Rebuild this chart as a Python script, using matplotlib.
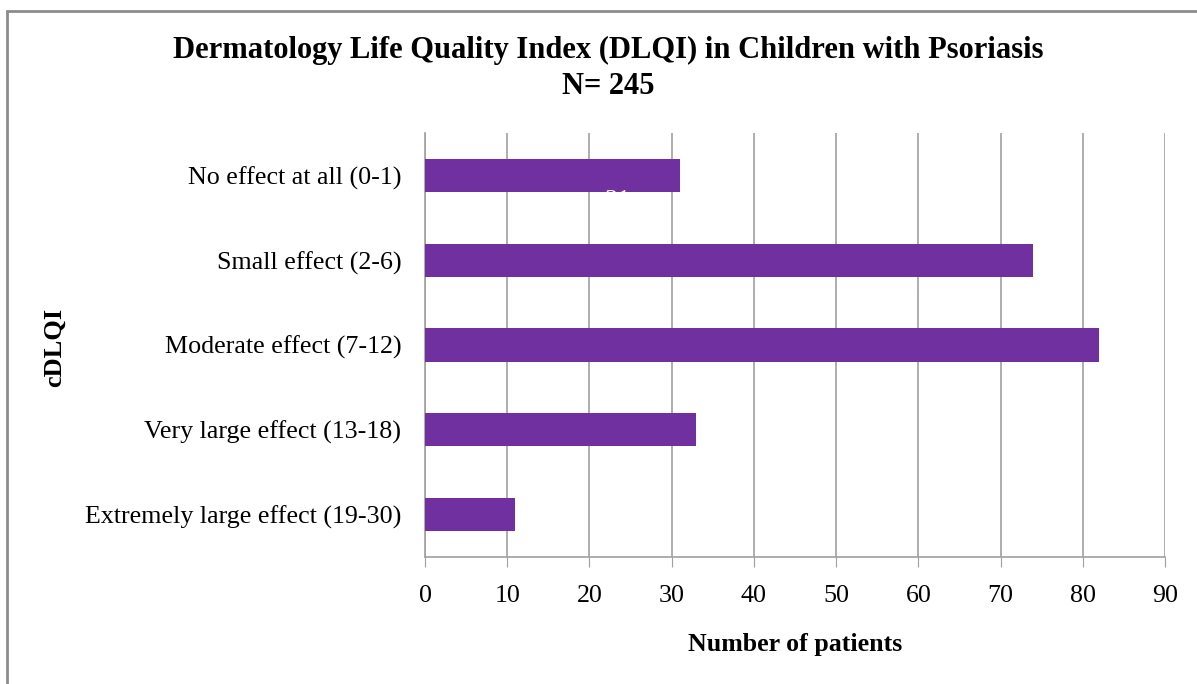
import matplotlib

matplotlib.use("Agg")
import matplotlib.pyplot as plt
from matplotlib.patches import Rectangle

# %% Data
categories = [
    "No effect at all (0-1)",
    "Small effect (2-6)",
    "Moderate effect (7-12)",
    "Very large effect (13-18)",
    "Extremely large effect (19-30)",
]
patients = [31, 74, 82, 33, 11]
x_ticks = [0, 10, 20, 30, 40, 50, 60, 70, 80, 90]

plt.rcParams["font.family"] = ["Liberation Serif", "DejaVu Serif"]

W, H = 1197, 684
fig = plt.figure(figsize=(W / 100, H / 100), dpi=100)
ax = fig.add_axes([425 / W, 1 - 557 / H, 740 / W, (557 - 133) / H])

ypos = list(range(len(categories)))
ax.barh(ypos, patients, height=0.39, color="#7030A0", zorder=3)

# stray, mostly hidden white data label on the first bar
ax.text(23.5, 0.17, str(patients[0]), color="white", fontsize=19,
        ha="center", va="top", zorder=4)

ax.set_xlim(0, 90)
ax.set_ylim(len(categories) - 0.5, -0.5)
ax.set_xticks(x_ticks)
ax.set_yticks(ypos)
ax.set_yticklabels(categories, fontsize=18.7)
ax.tick_params(axis="x", labelsize=18.7, length=7, color="#A0A0A0", pad=13)
ax.tick_params(axis="y", length=0, pad=17)
ax.grid(axis="x", color="#A0A0A0", linewidth=1.2, zorder=0)

for side in ["top", "right"]:
    ax.spines[side].set_visible(False)
for side in ["left", "bottom"]:
    ax.spines[side].set_color("#A0A0A0")
    ax.spines[side].set_linewidth(1.2)

fig.text(608 / W, 1 - 50 / H,
         "Dermatology Life Quality Index (DLQI) in Children with Psoriasis",
         ha="center", va="center", fontsize=22, fontweight="bold")
fig.text(608 / W, 1 - 87 / H, "N= 245", ha="center", va="center",
         fontsize=22, fontweight="bold")
fig.text(795 / W, 1 - 645 / H, "Number of patients", ha="center",
         va="center", fontsize=18.6, fontweight="bold")
fig.text(54 / W, 1 - 347 / H, "cDLQI", ha="center", va="center",
         rotation=90, fontsize=19, fontweight="bold")

# outer chart frame
fig.patches.append(Rectangle((7 / W, -0.1), 1.2, 1 - 11 / H + 0.1,
                             transform=fig.transFigure, fill=False,
                             edgecolor="#8C8C8C", linewidth=2))

fig.savefig("out.png", dpi=100)
